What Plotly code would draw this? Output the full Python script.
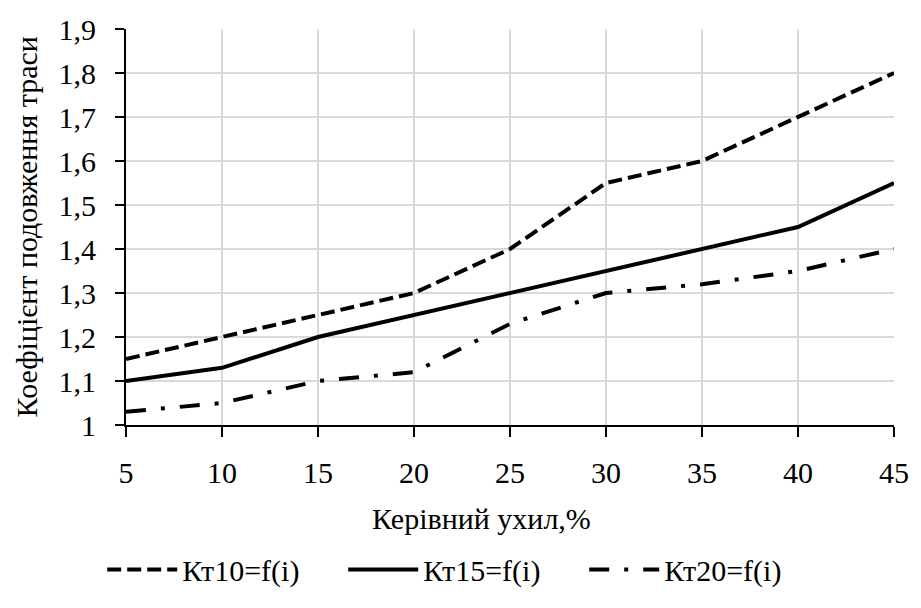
import plotly.graph_objects as go

x_slope = [5, 10, 15, 20, 25, 30, 35, 40, 45]
kt10 = [1.15, 1.20, 1.25, 1.30, 1.40, 1.55, 1.60, 1.70, 1.80]
kt15 = [1.10, 1.13, 1.20, 1.25, 1.30, 1.35, 1.40, 1.45, 1.55]
kt20 = [1.03, 1.05, 1.10, 1.12, 1.23, 1.30, 1.32, 1.35, 1.40]
names = ["Кт10=f(i)", "Кт15=f(i)", "Кт20=f(i)"]
x_title = "Керівний ухил,%"
y_title = "Коефіцієнт подовження траси"

FONT = "Liberation Serif, Times New Roman, serif"
FS = 30

fig = go.Figure()
fig.add_trace(go.Scatter(x=x_slope, y=kt10, mode="lines", name=names[0],
                         line=dict(color="black", width=4, dash="14px,6px")))
fig.add_trace(go.Scatter(x=x_slope, y=kt15, mode="lines", name=names[1],
                         line=dict(color="black", width=4)))
fig.add_trace(go.Scatter(x=x_slope, y=kt20, mode="lines", name=names[2],
                         line=dict(color="black", width=4, dash="20px,15px,4px,15px")))

fig.update_layout(
    width=921, height=608,
    margin=dict(l=126, r=16, t=23, b=170),
    paper_bgcolor="white", plot_bgcolor="white",
    separators=", ",
    font=dict(family=FONT, size=FS, color="black"),
    showlegend=True,
    legend=dict(orientation="h", x=-0.031, xanchor="left", y=-0.3646, yanchor="middle",
                font=dict(size=FS, family=FONT), itemwidth=70,
                entrywidth=156, entrywidthmode="pixels",
                traceorder="normal", bgcolor="rgba(0,0,0,0)"),
    xaxis=dict(range=[5, 45], tickvals=x_slope, showgrid=True, gridcolor="#d9d9d9", gridwidth=1.5,
               showline=True, linecolor="black", linewidth=2, ticks="outside", ticklen=10,
               tickcolor="black", tickwidth=2, zeroline=False, ticklabelstandoff=10,
               tickfont=dict(size=FS)),
    yaxis=dict(range=[1, 1.9], dtick=0.1, tick0=1, showgrid=True, gridcolor="#d9d9d9", gridwidth=1.5,
               showline=True, linecolor="black", linewidth=2, ticks="outside", ticklen=9,
               tickcolor="black", tickwidth=2, zeroline=False, tickformat=".1~f",
               ticklabelstandoff=13, tickfont=dict(size=FS)),
    annotations=[
        dict(text=x_title, xref="paper", yref="paper", x=0.4634, y=-0.237,
             xanchor="center", yanchor="middle", showarrow=False, font=dict(size=FS)),
        dict(text=y_title, xref="paper", yref="paper", x=-0.1297, y=0.5, textangle=-90,
             xanchor="center", yanchor="middle", showarrow=False, font=dict(size=FS)),
    ],
)

fig.write_html("out.html")
